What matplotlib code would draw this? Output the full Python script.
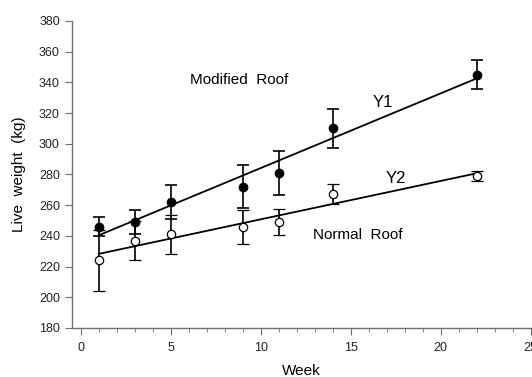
import numpy as np
import matplotlib
matplotlib.use('Agg')
import matplotlib.pyplot as plt

plt.rcParams['font.family'] = ['Liberation Sans Narrow', 'Liberation Sans', 'DejaVu Sans']

# Data
weeks = [1, 3, 5, 9, 11, 14, 22]
modified_roof = [246, 249, 262, 272, 281, 310, 345]
modified_err = [6, 8, 11, 14, 14.5, 12.5, 9.5]
normal_roof = [224, 237, 241, 246, 249, 267, 279]
normal_err = [20, 13, 12.5, 11, 8.7, 6.5, 3.5]

x_ticks = [0, 5, 10, 15, 20, 25]
y_ticks = list(range(180, 381, 20))

W, H = 532, 377
fig = plt.figure(figsize=(W / 100, H / 100), dpi=100)
ax = fig.add_axes([71.7 / W, 49 / H, 459 / W, 307 / H])

x = np.array(weeks)
# regression lines through each series
for vals in (modified_roof, normal_roof):
    slope, icpt = np.polyfit(x, vals, 1)
    xs = np.array([x.min(), x.max()])
    ax.plot(xs, slope * xs + icpt, color='black', lw=1.3, zorder=2)

ax.errorbar(weeks, modified_roof, yerr=modified_err, fmt='o', color='black',
            mfc='black', mec='black', ms=6, capsize=4, elinewidth=1.2,
            capthick=1.2, zorder=3)
ax.errorbar(weeks, normal_roof, yerr=normal_err, fmt='o', color='black',
            mfc='white', mec='black', ms=6, mew=0.9, capsize=4, elinewidth=1.2,
            capthick=1.2, zorder=3)

ax.text(8.8, 341.6, 'Modified  Roof', fontsize=11, ha='center', va='center')
ax.text(16.8, 326.6, 'Y1', fontsize=12, ha='center', va='center')
ax.text(17.5, 277.5, 'Y2', fontsize=12, ha='center', va='center')
ax.text(15.4, 240.6, 'Normal  Roof', fontsize=11, ha='center', va='center')

ax.set_xlim(-0.5, 25)
ax.set_ylim(180, 380)
ax.set_xticks(x_ticks)
ax.set_xticks(range(0, 26), minor=True)
ax.set_yticks(y_ticks)

for s in ['top', 'right']:
    ax.spines[s].set_visible(False)
for s in ['left', 'bottom']:
    ax.spines[s].set_color('#707070')
    ax.spines[s].set_linewidth(1.0)
ax.tick_params(axis='both', which='major', direction='out', length=5,
               color='#707070', labelsize=9, labelcolor='#222222')
ax.tick_params(axis='x', which='minor', direction='out', length=3, color='#707070')
ax.tick_params(axis='x', pad=5)

ax.set_xlabel('Week', fontsize=11, labelpad=7)
ax.set_ylabel('Live  weight  (kg)', fontsize=11, labelpad=9)

fig.savefig('out.png', dpi=100)
